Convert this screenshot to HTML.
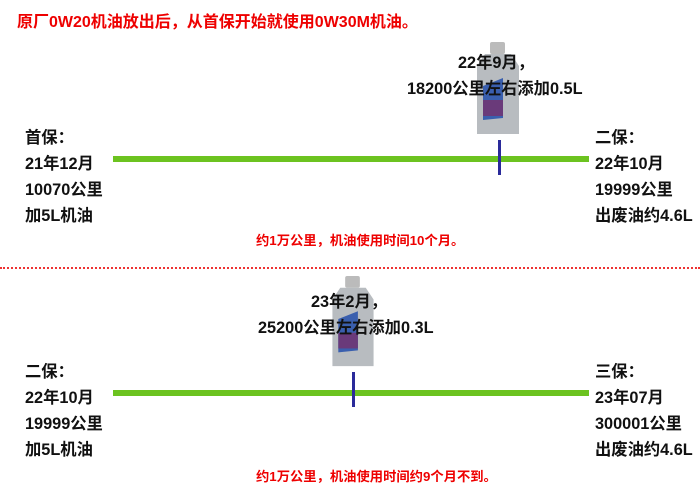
<!DOCTYPE html>
<html><head><meta charset="utf-8"><style>
body{margin:0;width:700px;height:494px;background:#fff;position:relative;overflow:hidden;font-family:"Liberation Sans","Noto Sans CJK SC",sans-serif;}
.t{position:absolute;font-size:16.3px;font-weight:bold;color:#111;white-space:nowrap;line-height:19px}
.r{position:absolute;color:#e00;font-weight:bold;white-space:nowrap}
.g{position:absolute;background:#6cc320;height:6px;left:113px;width:476px}
.b{position:absolute;background:#2a2a9a;width:3px}
.bot{position:absolute}
</style></head><body>
<div class="r" style="left:17px;top:8px;font-size:16px">原厂0W20机油放出后，从首保开始就使用0W30M机油。</div>

<svg class="bot" style="left:473px;top:40px" width="50" height="98" viewBox="0 0 50 98">
<rect x="17" y="2" width="15" height="12" rx="2" fill="#bbb"/>
<path d="M12 14 H38 L46 26 V94 H4 V26 Z" fill="#b8bcc0"/>
<path d="M10 46 L30 38 V78 L10 80 Z" fill="#3a5fae"/>
<rect x="10" y="60" width="20" height="16" fill="#6a3a7a"/>
</svg>
<div class="t" style="left:458px;top:54px">22年9月，</div>
<div class="t" style="left:407px;top:80px">18200公里左右添加0.5L</div>
<div class="g" style="top:156px"></div>
<div class="b" style="left:498px;top:140px;height:35px"></div>
<div class="t" style="left:25px;top:129px">首保：</div>
<div class="t" style="left:25px;top:155px">21年12月</div>
<div class="t" style="left:25px;top:181px">10070公里</div>
<div class="t" style="left:25px;top:207px">加5L机油</div>
<div class="t" style="left:595px;top:129px">二保：</div>
<div class="t" style="left:595px;top:155px">22年10月</div>
<div class="t" style="left:595px;top:181px">19999公里</div>
<div class="t" style="left:595px;top:207px">出废油约4.6L</div>
<div class="r" style="left:256px;top:230px;font-size:13.3px">约1万公里，机油使用时间10个月。</div>

<div style="position:absolute;left:0;top:267px;width:700px;border-top:2px dotted #e33"></div>

<svg class="bot" style="left:328px;top:274px" width="50" height="96" viewBox="0 0 50 98">
<rect x="17" y="2" width="15" height="12" rx="2" fill="#bbb"/>
<path d="M12 14 H38 L46 26 V94 H4 V26 Z" fill="#b8bcc0"/>
<path d="M10 46 L30 38 V78 L10 80 Z" fill="#3a5fae"/>
<rect x="10" y="60" width="20" height="16" fill="#6a3a7a"/>
</svg>
<div class="t" style="left:311px;top:293px">23年2月，</div>
<div class="t" style="left:258px;top:319px">25200公里左右添加0.3L</div>
<div class="g" style="top:390px"></div>
<div class="b" style="left:352px;top:372px;height:35px"></div>
<div class="t" style="left:25px;top:363px">二保：</div>
<div class="t" style="left:25px;top:389px">22年10月</div>
<div class="t" style="left:25px;top:415px">19999公里</div>
<div class="t" style="left:25px;top:441px">加5L机油</div>
<div class="t" style="left:595px;top:363px">三保：</div>
<div class="t" style="left:595px;top:389px">23年07月</div>
<div class="t" style="left:595px;top:415px">300001公里</div>
<div class="t" style="left:595px;top:441px">出废油约4.6L</div>
<div class="r" style="left:256px;top:466px;font-size:13.3px">约1万公里，机油使用时间约9个月不到。</div>
</body></html>
